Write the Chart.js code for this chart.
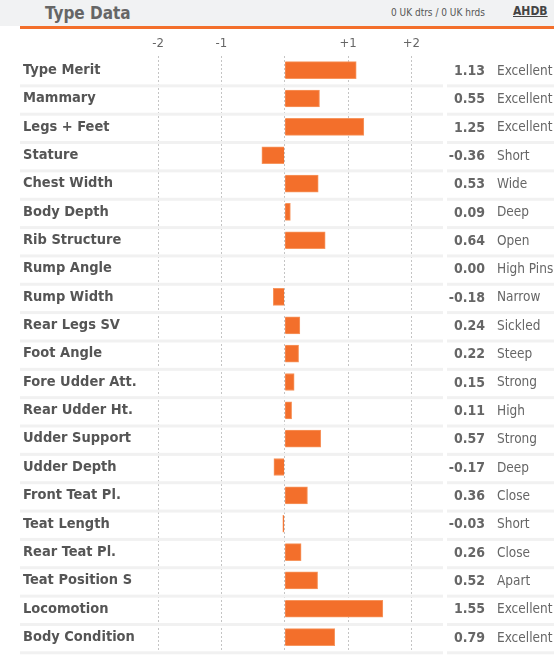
<!DOCTYPE html>
<html>
<head>
<meta charset="utf-8">
<script src="https://cdn.jsdelivr.net/npm/chart.js@4"></script>
<style>
    body { margin: 0; background: #fff; font-family: 'DejaVu Sans Condensed', sans-serif; }
    #wrap { position: relative; width: 554px; height: 660px; }
    #head { position: absolute; left: 0; top: 0; width: 554px; height: 26px; background: #f1f2f3; border-bottom: 3px solid #f36f2b; }
    #head .title { position: absolute; left: 45px; top: 3px; font-size: 17px; font-weight: bold; color: #666; }
    #head .counts { position: absolute; left: 391px; top: 7px; font-size: 10px; color: #555; }
    #head .logo { position: absolute; left: 513px; top: 4px; font-size: 12px; font-weight: bold; color: #444; text-decoration: underline; }
    #line { position: absolute; left: 0; top: 26px; width: 20px; height: 3px; background: #fff; }
    #chart-box { position: absolute; left: 0; top: 29px; width: 554px; height: 631px; }
</style>
</head>
<body>
<div id="wrap">
    <div id="head">
        <span class="title">Type Data</span>
        <span class="counts">0 UK dtrs / 0 UK hrds</span>
        <span class="logo">AHDB</span>
    </div>
    <div id="line"></div>
    <div id="chart-box"><canvas id="typeChart"></canvas></div>
</div>
<script>
const traits = [
    'Type Merit', 'Mammary', 'Legs + Feet', 'Stature', 'Chest Width', 'Body Depth',
    'Rib Structure', 'Rump Angle', 'Rump Width', 'Rear Legs SV', 'Foot Angle',
    'Fore Udder Att.', 'Rear Udder Ht.', 'Udder Support', 'Udder Depth',
    'Front Teat Pl.', 'Teat Length', 'Rear Teat Pl.', 'Teat Position S',
    'Locomotion', 'Body Condition'
]
const values = [1.13, 0.55, 1.25, -0.36, 0.53, 0.09, 0.64, 0.00, -0.18, 0.24, 0.22,
    0.15, 0.11, 0.57, -0.17, 0.36, -0.03, 0.26, 0.52, 1.55, 0.79]
const descriptors = [
    'Excellent', 'Excellent', 'Excellent', 'Short', 'Wide', 'Deep', 'Open',
    'High Pins', 'Narrow', 'Sickled', 'Steep', 'Strong', 'High', 'Strong', 'Deep',
    'Close', 'Short', 'Close', 'Apart', 'Excellent', 'Excellent'
]
const tickValues = [-2, -1, 0, 1, 2]

const orange = '#f36f2b'
const fontName = "'DejaVu Sans Condensed', sans-serif"

// grey bands under each row + value / descriptor columns on the right
const rowsPlugin = {
    id: 'rows',
    beforeDatasetsDraw(chart) {
        const { ctx, chartArea, scales } = chart
        const y = scales.y
        const step = y.getPixelForValue(1) - y.getPixelForValue(0)
        ctx.save()
        ctx.fillStyle = '#f1f1f1'
        for (let i = 0; i < traits.length; i++) {
            const yb = y.getPixelForValue(i) + step / 2
            ctx.fillRect(20, yb, chartArea.right - 20, 3)
            ctx.fillRect(chartArea.right + 4, yb, chart.width - chartArea.right - 4, 3)
        }
        ctx.restore()
    },
    afterDraw(chart) {
        const { ctx, chartArea, scales } = chart
        ctx.save()
        ctx.textBaseline = 'middle'
        traits.forEach((t, i) => {
            const yp = scales.y.getPixelForValue(i)
            ctx.fillStyle = '#666'
            ctx.font = 'bold 14px ' + fontName
            ctx.textAlign = 'right'
            ctx.fillText(values[i].toFixed(2), chartArea.right + 42, yp + 1)
            ctx.fillStyle = '#666'
            ctx.font = '13.5px ' + fontName
            ctx.textAlign = 'left'
            ctx.fillText(descriptors[i], chartArea.right + 54, yp + 1)
        })
        ctx.restore()
    }
}

const ctx = document.getElementById('typeChart')
const chart = new Chart(ctx, {
    type: 'bar',
    data: {
        labels: traits,
        datasets: [{
            data: values,
            backgroundColor: orange,
            borderColor: '#f7965f',
            borderWidth: 1,
            barThickness: 17
        }]
    },
    plugins: [rowsPlugin],
    options: {
        indexAxis: 'y',
        responsive: true,
        maintainAspectRatio: false,
        animation: false,
        layout: { padding: { left: 23, right: 111, top: 0, bottom: 5.5 } },
        plugins: {
            legend: { display: false },
            tooltip: { enabled: false }
        },
        scales: {
            x: {
                position: 'top',
                min: -2,
                max: 2.5,
                afterBuildTicks: (scale) => {
                    scale.ticks = tickValues.map((v) => ({ value: v }))
                },
                afterFit: (scale) => { scale.height = 27 },
                grid: {
                    color: '#c4c4c4',
                    drawTicks: false
                },
                border: { display: false, dash: [2, 2] },
                ticks: {
                    padding: 5,
                    color: '#666',
                    font: { family: fontName, size: 13 },
                    callback: (v) => v === 0 ? '' : (v > 0 ? '+' + v : '' + v)
                }
            },
            y: {
                grid: { display: false },
                border: { display: false },
                afterFit: (scale) => { scale.width = 135 },
                ticks: {
                    crossAlign: 'far',
                    color: '#555',
                    padding: 0,
                    font: { family: fontName, size: 14.5, weight: 'bold' }
                }
            }
        }
    }
})
</script>
</body>
</html>
